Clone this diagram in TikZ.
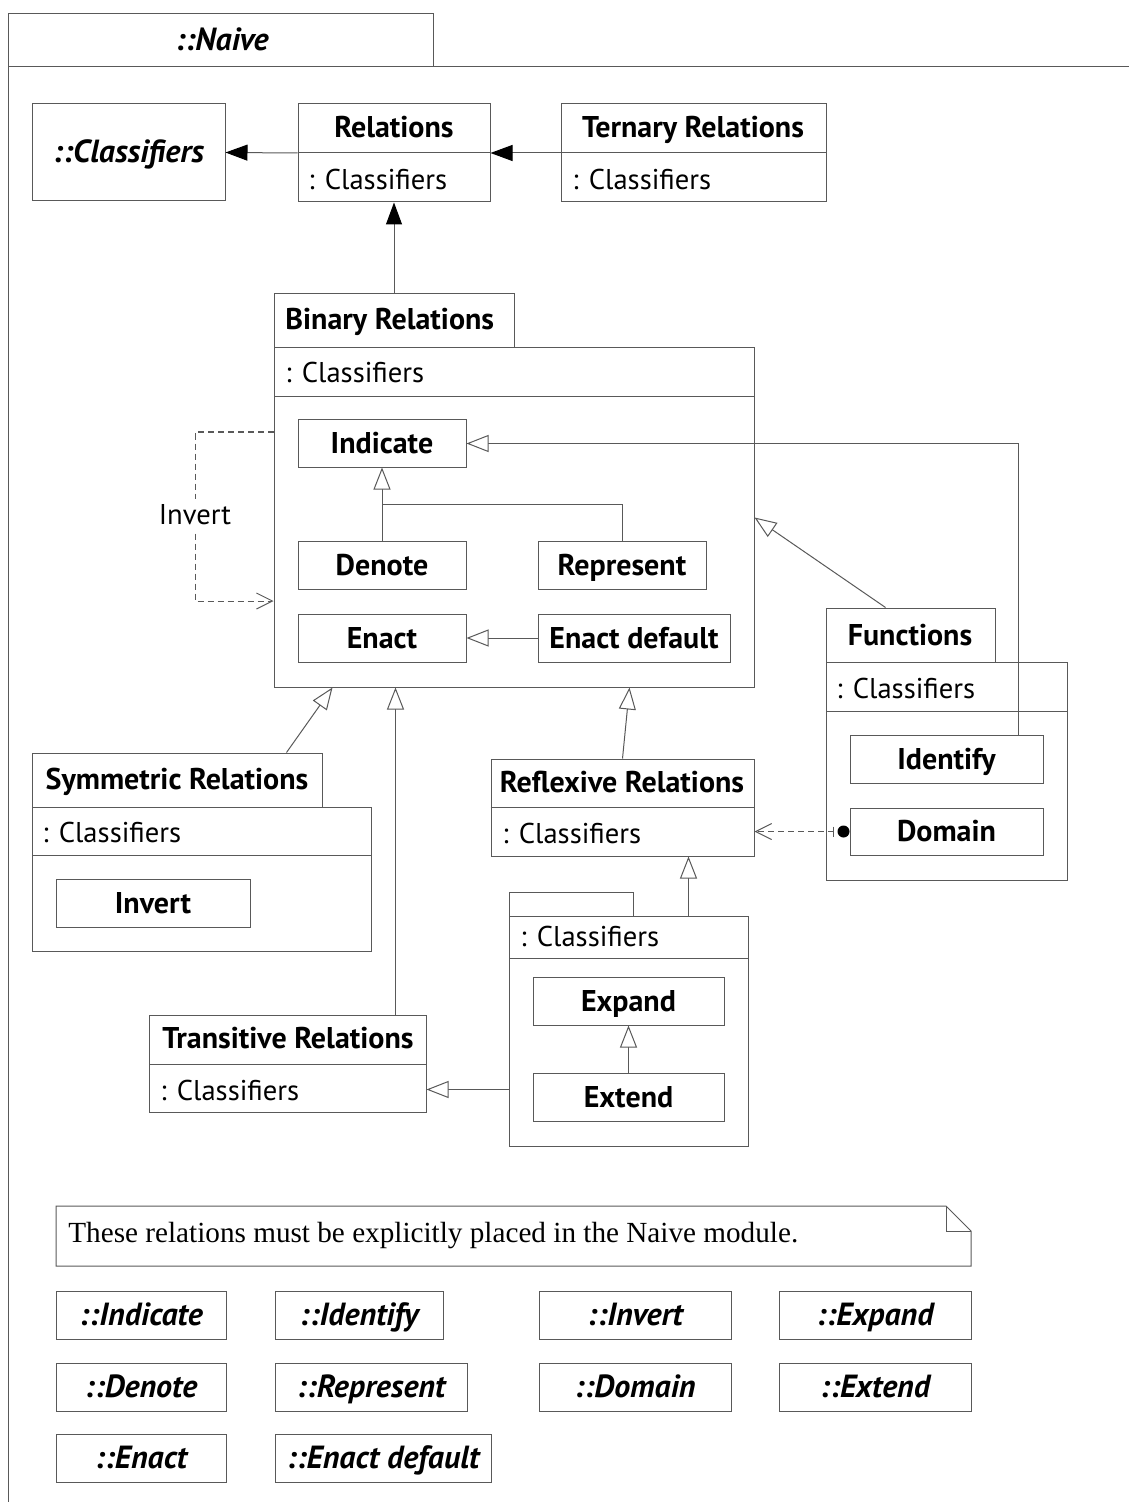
\documentclass[tikz,border=0pt]{standalone}
\usepackage{fontspec}
\setsansfont{PT Sans}
\newfontfamily\notefont{Liberation Serif}
\usetikzlibrary{arrows.meta,calc}
\definecolor{lc}{gray}{0.35}
\begin{document}
\begin{tikzpicture}[x=0.5pt,y=-0.5pt,
  every node/.style={font=\sffamily\fontsize{14.3}{17}\selectfont, text=black},
  ln/.style={draw=lc, line width=0.5pt},
  bx/.style n args={4}{ln, inner sep=0pt, text height=10pt, text depth=0pt,
     minimum width={(#3-#1)*0.5pt}, minimum height={(#4-#2)*0.5pt},
     at={({(#1+#3)/2},{(#2+#4)/2})}},
  tb/.style={font=\sffamily\bfseries\fontsize{15}{18}\selectfont, text height=10pt, text depth=0pt, inner sep=0pt},
  ti/.style={font=\sffamily\bfseries\itshape\fontsize{16}{19}\selectfont, text height=10.5pt, text depth=0pt},
  tr/.style={font=\sffamily\fontsize{14.3}{17}\selectfont, anchor=west, inner sep=0pt, text height=10pt, text depth=0pt},
  gen/.style={ln, -{Triangle[open, length=11pt, width=8.5pt, fill=white]}},
  assoc/.style={ln, -{Triangle[length=11pt, width=8pt, color=black]}},
  dep/.style={ln, dash pattern=on 3pt off 2pt, -{Straight Barb[length=8pt, width=8pt]}}
]
\useasboundingbox (0,0) rectangle (1129,1502);

% package frame
\draw[ln] (8,1502) -- (8,14) -- (433,14) -- (433,67);
\draw[ln] (8,67) -- (1129,67);
\node[ti, inner sep=0pt] (pkg) at (222,40) {::Naive};

% top row
\node[bx={32}{104}{225}{201}, ti] (cls) {::Classifiers};
\node[bx={298}{104}{490}{202}] (rel) {};
\draw[ln] (rel.west) -- (rel.east);
\node[tb] (relT) at (394,128) {Relations};
\node[tr] (relC) at (308,180) {: Classifiers};
\node[bx={561}{104}{826}{202}] (ter) {};
\draw[ln] (ter.west) -- (ter.east);
\node[tb] (terT) at (693,128) {Ternary Relations};
\node[tr] (terC) at (572,180) {: Classifiers};

% binary relations
\node[bx={274}{294}{514}{348}] (bint) {};
\node[bx={274}{348}{754}{687}] (bin) {};
\draw[ln] (274,397) -- (754,397);
\node[tb, anchor=west] (binT) at (285,320) {Binary Relations};
\node[tr] (binC) at (285,373) {: Classifiers};
\node[bx={298}{420}{466}{467}, tb] (ind) {Indicate};
\node[bx={298}{541}{466}{589}, tb] (den) {Denote};
\node[bx={538}{541}{706}{589}, tb] (rep) {Represent};
\node[bx={298}{614}{466}{662}, tb] (ena) {Enact};
\node[bx={538}{614}{730}{662}, tb] (end) {Enact default};

% functions
\node[bx={826}{608}{995}{662}] (funt) {};
\node[bx={826}{662}{1067}{880}] (fun) {};
\draw[ln] (826,711) -- (1067,711);
\node[tb] (funT) at (910,635) {Functions};
\node[tr] (funC) at (836,688) {: Classifiers};
\node[bx={850}{735}{1043}{783}, tb] (idf) {Identify};
\node[bx={850}{808}{1043}{855}, tb] (dom) {Domain};

% symmetric
\node[bx={32}{753}{322}{807}] (symt) {};
\node[bx={32}{807}{371}{951}] (sym) {};
\draw[ln] (32,855) -- (371,855);
\node[tb] (symT) at (177,779) {Symmetric Relations};
\node[tr] (symC) at (42,832) {: Classifiers};
\node[bx={56}{879}{250}{927}, tb] (inv) {Invert};

% reflexive
\node[bx={491}{759}{754}{856}] (refl) {};
\draw[ln] (refl.west |- 0,807) -- (refl.east |- 0,807);
\node[tb] (reflT) at (622,782) {Reflexive Relations};
\node[tr] (reflC) at (502,833) {: Classifiers};

% unnamed
\node[bx={509}{892}{633}{916}] (unnt) {};
\node[bx={509}{916}{748}{1146}] (unn) {};
\draw[ln] (509,958) -- (748,958);
\node[tr] (unnC) at (520,936) {: Classifiers};
\node[bx={533}{977}{724}{1025}, tb] (exp) {Expand};
\node[bx={533}{1073}{724}{1121}, tb] (ext) {Extend};

% transitive
\node[bx={149}{1015}{426}{1112}] (tra) {};
\draw[ln] (149,1064) -- (426,1064);
\node[tb] (traT) at (288,1038) {Transitive Relations};
\node[tr] (traC) at (160,1090) {: Classifiers};

% connectors
\draw[assoc] (ter.west) -- (rel.east);
\draw[assoc] (rel.west) -- (cls.east);
\draw[assoc] (bint.north) -- (rel.south);
\draw[gen] (den.north) -- (ind.south);
\draw[ln] (rep.north) |- ($(den.north)!0.5!(ind.south)$);
\draw[gen] (end.west) -- (ena.east);
\draw[gen] ($(idf.north east)+(-25,0)$) |- (ind.east);
\draw[gen] ($(funt.north)+(-25,0)$) -- (bin.east);
\draw[gen] ($(symt.north east)+(-36,0)$) -- ($(bin.south west)+(59,0)$);
\coordinate (traUp) at ($(tra.north east)+(-31,0)$);
\draw[gen] (traUp) -- (traUp |- bin.south);
\draw[gen] (refl.north) -- ($(bin.south west)+(356,0)$);
\coordinate (unnUp) at ($(unn.north east)+(-60,0)$);
\draw[gen] (unnUp) -- (unnUp |- refl.south);
\coordinate (traIn) at ($(tra.south east)+(0,-23)$);
\draw[gen] (unn.west |- traIn) -- (traIn);
\draw[gen] (ext.north) -- (exp.south);

% Domain dependency
\draw[dep] ($(dom.west)+(-6,0)$) -- (refl.east |- dom.west);
\fill[black] ($(dom.west)+(-6,0)$) circle (3pt);
\draw[ln] ($(dom.west)+(-16,-5)$) -- ($(dom.west)+(-16,5)$);

% Invert dependency
\coordinate (invA) at (195,432);
\coordinate (invB) at (195,601);
\draw[dep] (bin.west |- invA) -- (invA) -- (invB) -- (bin.west |- invB);
\node[fill=white, inner sep=3pt] (invL) at (195,515) {Invert};

% note
\draw[ln] (56,1206) -- (946,1206) -- (971,1231) -- (971,1266) -- (56,1266) -- cycle;
\draw[ln] (946,1206) -- (946,1231) -- (971,1231);
\node[anchor=west, inner sep=0pt, font=\notefont\fontsize{14.6}{17}\selectfont] (note) at (68,1236) {These relations must be explicitly placed in the Naive module.};

% reference boxes
\node[bx={56}{1291}{226}{1339}, ti] (r1) {::Indicate};
\node[bx={275}{1291}{443}{1339}, ti] (r2) {::Identify};
\node[bx={539}{1291}{731}{1339}, ti] (r3) {::Invert};
\node[bx={779}{1291}{971}{1339}, ti] (r4) {::Expand};
\node[bx={56}{1363}{226}{1411}, ti] (r5) {::Denote};
\node[bx={275}{1363}{467}{1411}, ti] (r6) {::Represent};
\node[bx={539}{1363}{731}{1411}, ti] (r7) {::Domain};
\node[bx={779}{1363}{971}{1411}, ti] (r8) {::Extend};
\node[bx={56}{1434}{226}{1482}, ti] (r9) {::Enact};
\node[bx={275}{1434}{491}{1482}, ti] (r10) {::Enact default};
\end{tikzpicture}
\end{document}
